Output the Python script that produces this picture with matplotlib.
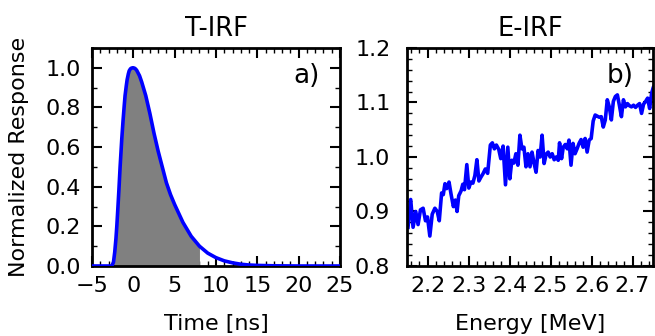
import matplotlib
matplotlib.use("Agg")
import matplotlib.pyplot as plt
from matplotlib.ticker import MultipleLocator

# T-IRF data
time_ns = [-5, -3.0, -2.6, -2.4, -2.25, -2.1, -2.0, -1.9, -1.75, -1.6, -1.5, -1.4, -1.25, -1.1, -1.0,
           -0.85, -0.75, -0.6, -0.5, -0.35, -0.25, -0.1, 0.0, 0.15, 0.25, 0.4, 0.5, 0.75, 1.0,
           1.25, 1.5, 1.75, 2.0, 2.5, 3.0, 3.5, 4.0, 4.5, 5.0, 5.5, 6.0, 6.5, 7.0, 7.5, 8.0,
           9.0, 10.0, 11.0, 12.0, 13.0, 14.0, 15.0, 17.0, 20.0, 25.0]
t_resp = [0.0, 0.0, 0.0, 0.02, 0.07, 0.14, 0.20, 0.27, 0.38, 0.50, 0.57, 0.64, 0.73, 0.81, 0.86,
          0.91, 0.94, 0.97, 0.985, 0.995, 0.998, 1.0, 1.0, 0.998, 0.995, 0.988, 0.98, 0.96, 0.93,
          0.895, 0.86, 0.815, 0.77, 0.67, 0.58, 0.50, 0.42, 0.36, 0.31, 0.265, 0.22, 0.185, 0.15, 0.125, 0.10,
          0.065, 0.042, 0.026, 0.016, 0.009, 0.005, 0.003, 0.001, 0.0, 0.0]
fill_end = 8.0

# E-IRF data
energy_mev = [2.1525, 2.1590, 2.1648, 2.1713, 2.1770, 2.1828, 2.1893, 2.1951, 2.2000, 2.2057,
              2.2115, 2.2180, 2.2238, 2.2287, 2.2344, 2.2385, 2.2426, 2.2467, 2.2525, 2.2574,
              2.2631, 2.2680, 2.2721, 2.2762, 2.2820, 2.2861, 2.2902, 2.2959, 2.3008, 2.3057,
              2.3107, 2.3156, 2.3205, 2.3254, 2.3303, 2.3352, 2.3410, 2.3467, 2.3533, 2.3582,
              2.3631, 2.3680, 2.3738, 2.3787, 2.3844, 2.3902, 2.3959, 2.4008, 2.4057, 2.4107,
              2.4156, 2.4205, 2.4254, 2.4303, 2.4352, 2.4402, 2.4451, 2.4500, 2.4549, 2.4598,
              2.4648, 2.4697, 2.4746, 2.4795, 2.4844, 2.4893, 2.4943, 2.4992, 2.5041, 2.5090,
              2.5139, 2.5189, 2.5221, 2.5270, 2.5311, 2.5361, 2.5410, 2.5451, 2.5500, 2.5549,
              2.5598, 2.5648, 2.5697, 2.5746, 2.5795, 2.5844, 2.5893, 2.5943, 2.5992, 2.6041,
              2.6090, 2.6139, 2.6189, 2.6238, 2.6287, 2.6336, 2.6385, 2.6434, 2.6484, 2.6533,
              2.6582, 2.6631, 2.6680, 2.6730, 2.6779, 2.6828, 2.6877, 2.6926, 2.6975, 2.7025,
              2.7074, 2.7123, 2.7172, 2.7221, 2.7270, 2.7320, 2.7369, 2.7418, 2.7467, 2.7508,
              2.7549, 2.7590]
e_resp = [0.871, 0.922, 0.871, 0.900, 0.876, 0.903, 0.906, 0.883, 0.890, 0.855,
          0.895, 0.906, 0.900, 0.883, 0.934, 0.931, 0.951, 0.942, 0.954, 0.932,
          0.909, 0.921, 0.900, 0.929, 0.938, 0.950, 0.940, 0.986, 0.943, 0.954,
          0.952, 0.966, 0.995, 0.956, 0.963, 0.969, 0.978, 0.970, 1.022, 1.026,
          1.015, 1.022, 1.014, 0.997, 1.020, 0.949, 1.018, 0.960, 0.994, 0.989,
          1.006, 0.985, 1.040, 1.015, 1.018, 0.982, 1.006, 0.982, 1.009, 0.989,
          0.972, 1.012, 1.000, 1.040, 0.988, 1.005, 1.009, 1.000, 1.006, 0.995,
          1.000, 0.994, 1.026, 0.997, 1.018, 1.023, 1.015, 1.031, 0.985, 1.025,
          1.006, 1.015, 1.025, 1.032, 1.018, 1.034, 1.009, 1.031, 1.034, 1.066,
          1.077, 1.075, 1.073, 1.074, 1.055, 1.068, 1.105, 1.092, 1.068, 1.102,
          1.111, 1.114, 1.095, 1.074, 1.105, 1.092, 1.098, 1.094, 1.092, 1.095,
          1.091, 1.095, 1.098, 1.080, 1.097, 1.102, 1.108, 1.089, 1.117, 1.128,
          1.132, 1.132]

plt.rcParams['font.family'] = ['DejaVu Sans']
plt.rcParams.update({
    'xtick.labelsize': 16, 'ytick.labelsize': 16,
    'xtick.direction': 'in', 'ytick.direction': 'in',
    'xtick.top': True, 'ytick.right': True,
    'xtick.minor.visible': True, 'ytick.minor.visible': True,
    'xtick.major.size': 7, 'ytick.major.size': 7,
    'xtick.minor.size': 3.5, 'ytick.minor.size': 3.5,
    'xtick.major.width': 1.5, 'ytick.major.width': 1.5,
    'xtick.minor.width': 1.0, 'ytick.minor.width': 1.0,
    'xtick.major.pad': 7, 'ytick.major.pad': 8,
    'axes.linewidth': 2.0,
})

fig = plt.figure(figsize=(6.55, 3.36), dpi=100)
ax1 = fig.add_axes([92/655, 70/336, 248/655, 218/336])
ax2 = fig.add_axes([407/655, 70/336, 246/655, 218/336])

# Left panel
ax1.plot(time_ns, t_resp, color='#0000ff', lw=2.6, zorder=3)
tf = [t for t in time_ns if t <= fill_end]
rf = [r for t, r in zip(time_ns, t_resp) if t <= fill_end]
ax1.fill_between(tf, 0, rf, color='#808080', lw=0, zorder=2)
ax1.set_xlim(-5, 25)
ax1.set_ylim(0, 1.1)
ax1.xaxis.set_major_locator(MultipleLocator(5))
ax1.xaxis.set_minor_locator(MultipleLocator(1))
ax1.yaxis.set_major_locator(MultipleLocator(0.2))
ax1.yaxis.set_minor_locator(MultipleLocator(0.1))
ax1.set_title('T-IRF', fontsize=18.5, pad=9)
ax1.set_xlabel('Time [ns]', fontsize=16, labelpad=13)
ax1.set_ylabel('Normalized Response', fontsize=16, labelpad=12)
ax1.text(0.92, 0.93, 'a)', transform=ax1.transAxes, ha='right', va='top', fontsize=19)

# Right panel
ax2.plot(energy_mev, e_resp, color='#0000ff', lw=2.6)
ax2.set_xlim(2.15, 2.75)
ax2.set_ylim(0.8, 1.2)
ax2.xaxis.set_major_locator(MultipleLocator(0.1))
ax2.xaxis.set_minor_locator(MultipleLocator(0.02))
ax2.yaxis.set_major_locator(MultipleLocator(0.1))
ax2.yaxis.set_minor_locator(MultipleLocator(0.02))
ax2.tick_params(axis='y', which='major', pad=12)
ax2.set_title('E-IRF', fontsize=18.5, pad=9)
ax2.set_xlabel('Energy [MeV]', fontsize=16, labelpad=13)
ax2.text(0.92, 0.93, 'b)', transform=ax2.transAxes, ha='right', va='top', fontsize=19)

fig.savefig('out.png', dpi=100)
